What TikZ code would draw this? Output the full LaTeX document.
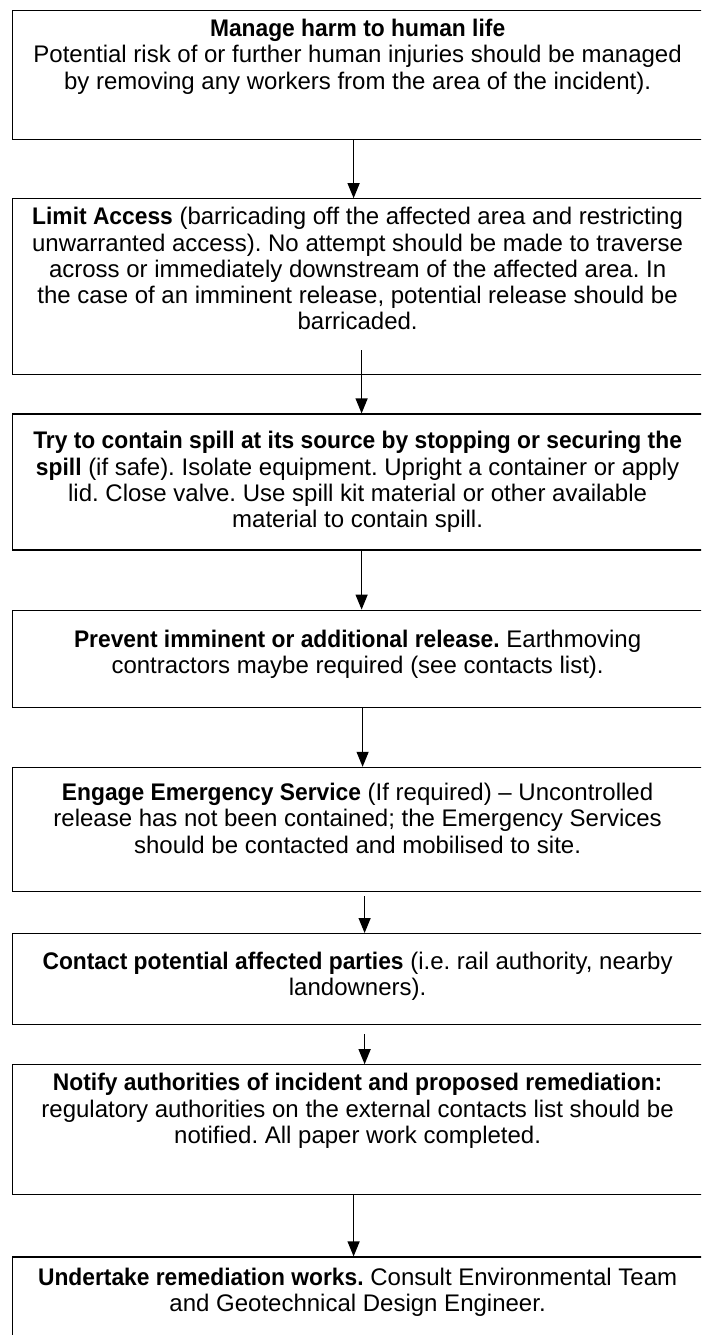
\documentclass[tikz,border=0pt]{standalone}
\usepackage{fontspec}
\setmainfont{Liberation Sans}[BoldFeatures={FakeStretch=0.95}]
\usetikzlibrary{positioning,arrows.meta}

\begin{document}
\begin{tikzpicture}[x=1pt, y=-1pt,
        stepbox/.style={rectangle, draw, line width=1.2pt, minimum width=690pt, inner sep=0pt},
        steptext/.style={align=center, inner sep=0pt, font=\fontsize{24}{26.3}\selectfont\frenchspacing},
        flow/.style={-{Triangle[length=15pt, width=12pt]}, line width=1.2pt}]
        \useasboundingbox (0,0) rectangle (701,1335);
        \clip (0,0) rectangle (701,1335);

        \node[stepbox, minimum height=129pt, anchor=north west] (boxHarm) at (12,10) {};
        \node[stepbox, minimum height=176pt] (boxAccess) [below = 58pt of boxHarm] {};
        \node[stepbox, minimum height=136pt] (boxContain) [below = 38pt of boxAccess] {};
        \node[stepbox, minimum height=97pt] (boxPrevent) [below = 59pt of boxContain] {};
        \node[stepbox, minimum height=124pt] (boxService) [below = 59pt of boxPrevent] {};
        \node[stepbox, minimum height=91pt] (boxParties) [below = 41pt of boxService] {};
        \node[stepbox, minimum height=130pt] (boxNotify) [below = 39pt of boxParties] {};
        \node[stepbox, minimum height=130pt] (boxRemedy) [below = 61pt of boxNotify] {};

        \node[steptext] (textHarm) [below = 9pt of boxHarm.north] {\textbf{Manage harm to human life}\\Potential risk of or further human injuries should be managed\\by removing any workers from the area of the incident).};
        \node[steptext] (textAccess) [below = 9pt of boxAccess.north] {\textbf{Limit Access} (barricading off the affected area and restricting\\unwarranted access). No attempt should be made to traverse\\across or immediately downstream of the affected area. In\\the case of an imminent release, potential release should be\\barricaded.};
        \node[steptext] (textContain) [below = 18pt of boxContain.north] {\textbf{Try to contain spill at its source by stopping or securing the}\\\textbf{spill} (if safe). Isolate equipment. Upright a container or apply\\lid. Close valve. Use spill kit material or other available\\material to contain spill.};
        \node[steptext] (textPrevent) [below = 20pt of boxPrevent.north] {\textbf{Prevent imminent or additional release.} Earthmoving\\contractors maybe required (see contacts list).};
        \node[steptext] (textService) [below = 16pt of boxService.north] {\textbf{Engage Emergency Service} (If required) -- Uncontrolled\\release has not been contained; the Emergency Services\\should be contacted and mobilised to site.};
        \node[steptext] (textParties) [below = 19pt of boxParties.north] {\textbf{Contact potential affected parties} (i.e. rail authority, nearby\\landowners).};
        \node[steptext] (textNotify) [below = 9pt of boxNotify.north] {\textbf{Notify authorities of incident and proposed remediation:}\\regulatory authorities on the external contacts list should be\\notified. All paper work completed.};
        \node[steptext] (textRemedy) [below = 11pt of boxRemedy.north] {\textbf{Undertake remediation works.} Consult Environmental Team\\and Geotechnical Design Engineer.};

        \draw[flow] ([xshift=-4pt]boxHarm.south) -- ([xshift=-4pt]boxAccess.north);
        \draw[flow] ([xshift=4pt, yshift=-20pt]textAccess.south) -- ([xshift=4pt]boxContain.north);
        \draw[flow] ([xshift=4pt]boxContain.south) -- ([xshift=4pt]boxPrevent.north);
        \draw[flow] ([xshift=5pt]boxPrevent.south) -- ([xshift=5pt]boxService.north);
        \draw[flow, shorten <=4pt] ([xshift=7pt]boxService.south) -- ([xshift=7pt]boxParties.north);
        \draw[flow, shorten <=9pt] ([xshift=7pt]boxParties.south) -- ([xshift=7pt]boxNotify.north);
        \draw[flow] ([xshift=-4pt]boxNotify.south) -- ([xshift=-4pt]boxRemedy.north);
\end{tikzpicture}
\end{document}
